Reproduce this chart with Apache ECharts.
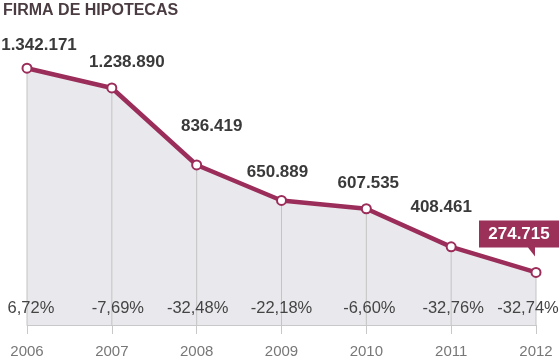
<!DOCTYPE html>
<html>
<head>
<meta charset="utf-8">
<script src="https://cdn.jsdelivr.net/npm/echarts@6/dist/echarts.min.js"></script>
<style>html,body{margin:0;padding:0;background:#fff}#c{width:560px;height:364px}</style>
</head>
<body>
<div id="c"></div>
<script>
const years = ['2006','2007','2008','2009','2010','2011','2012'];
const firmas = [1342171, 1238890, 836419, 650889, 607535, 408461, 274715];
const variacion = ['6,72%','-7,69%','-32,48%','-22,18%','-6,60%','-32,76%','-32,74%'];
const valueLabelOffsets = [[12,-23],[15,-26],[15,-39],[-4,-28],[2,-25],[-10,-40],[0,0]];
const pctLabelOffsets = [4,6,1,0,3,2,-8];

const fmt = v => v.toLocaleString('de-DE');
const LINE = '#9b2d5a';

const chart = echarts.init(document.getElementById('c'), null, {renderer:'canvas'});
chart.setOption({
  animation:false,
  title:{text:'FIRMA DE HIPOTECAS', left:3, top:3, padding:0,
    textStyle:{fontFamily:'Arial, Liberation Sans', fontSize:16, fontWeight:'bold', color:'#4a3c42'}},
  grid:{left:27, right:24, top:38, bottom:39, containLabel:false, outerBoundsMode:'none'},
  xAxis:{type:'category', data:years, boundaryGap:false,
    axisLine:{lineStyle:{color:'#c8c8c8', width:1}},
    axisTick:{show:true, length:9, lineStyle:{color:'#c8c8c8'}},
    axisLabel:{color:'#777', fontSize:15, fontFamily:'Arial, Liberation Sans', margin:19}},
  yAxis:{type:'value', min:0, max:1500000, show:false, splitLine:{show:false}},
  series:[
    {type:'line', data:firmas, z:1, symbol:'none', lineStyle:{width:0},
      areaStyle:{color:'#e9e8ec', opacity:1}, silent:true},
    {type:'bar', data:firmas.map((v,i)=>({value:v, label:{offset:[pctLabelOffsets[i], -3]}})),
      z:2, barWidth:1, itemStyle:{color:'#c4c4c4'},
      label:{show:true, position:'insideBottom',
        formatter:p=>variacion[p.dataIndex],
        color:'#444', fontSize:16.5, fontFamily:'Arial, Liberation Sans'}},
    {type:'line', data:firmas.map((v,i)=>({value:v,
        label:{show:i<firmas.length-1, offset:valueLabelOffsets[i]}})),
      z:3, symbol:'circle', symbolSize:9,
      itemStyle:{color:'#fff', borderColor:LINE, borderWidth:2},
      lineStyle:{color:LINE, width:4.5},
      label:{show:true, position:'inside', formatter:p=>fmt(p.value),
        color:'#3a3a3a', fontSize:17, fontWeight:'bold', fontFamily:'Arial, Liberation Sans'},
      markPoint:{
        symbol:'path://M0 0H80V27H56V36L49 27H0Z',
        symbolSize:[80,36], symbolKeepAspect:false, symbolOffset:[-17,-34],
        itemStyle:{color:'#9b3059'},
        label:{show:true, position:'inside', offset:[0,-4.5], formatter:p=>fmt(p.value),
          color:'#fff', fontSize:17, fontWeight:'bold', fontFamily:'Arial, Liberation Sans'},
        data:[{type:'min'}]
      }}
  ]
});
</script>
</body>
</html>
